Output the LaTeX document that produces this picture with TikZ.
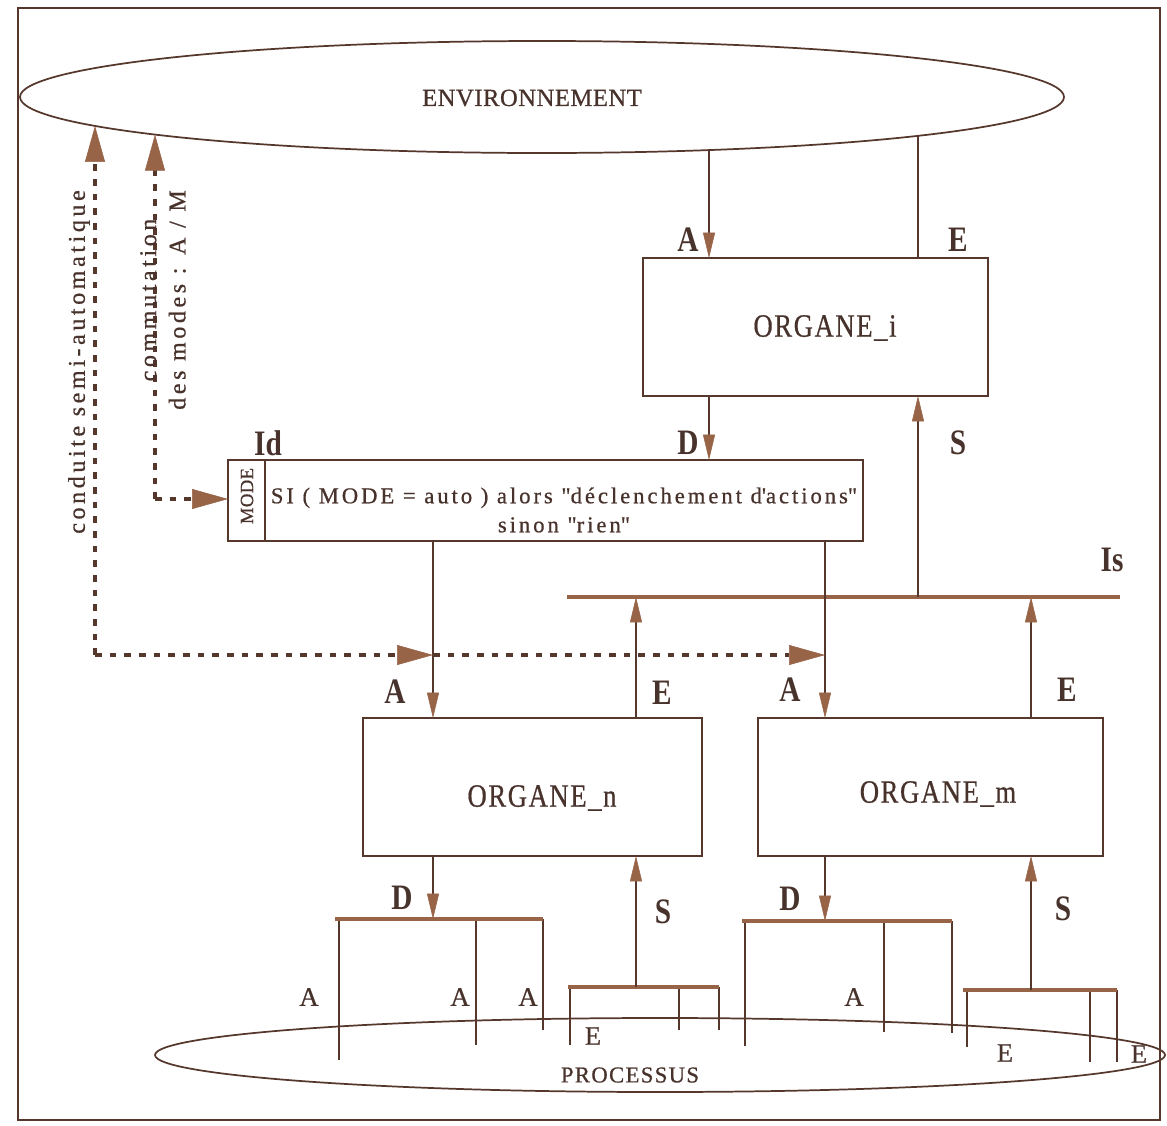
\documentclass[tikz,border=0pt]{standalone}
\usepackage{fontspec}
\usepackage{graphicx}
\setmainfont{Liberation Serif}
\newfontfamily\medfont{Liberation Serif}[FakeBold=0.7]
\usetikzlibrary{shapes.geometric,arrows.meta,calc}
\definecolor{inkc}{RGB}{85,55,44}
\definecolor{tipc}{RGB}{152,100,72}
\definecolor{textc}{RGB}{72,50,44}
\newcommand{\lsp}[1]{\addfontfeature{LetterSpace=#1}}
\newcommand{\tall}[1]{\scalebox{1}[1.22]{#1}}
\begin{document}
\begin{tikzpicture}[x=0.75pt,y=-0.75pt,
  ln/.style={draw=inkc, line width=1.35pt},
  arr/.style={ln, -{Triangle[length=19pt,width=9pt,fill=tipc,color=tipc,line width=0.4pt]}},
  bigtip/.style={-{Triangle[length=27pt,width=15pt,fill=tipc,color=tipc,line width=0.4pt]}},
  dsh/.style={draw=inkc, line width=3.2pt, dash pattern=on 5pt off 6pt},
  box/.style={draw=inkc, line width=1.6pt, inner sep=0pt, outer sep=0pt},
  barl/.style={draw=tipc, line width=3pt},
  lbl/.style={text=textc, font=\fontsize{22}{24}\selectfont\bfseries, inner sep=0pt},
  sl/.style={text=textc, font=\medfont\fontsize{20}{22}\selectfont, inner sep=0pt},
  txt/.style={text=textc, inner sep=0pt},
  ]
\useasboundingbox (0,0) rectangle (1167,1125);
% frame
\draw[draw=inkc, line width=1.4pt] (18,8) rectangle (1160,1120);

% ellipses
\node[ellipse, box, line width=1.3pt, minimum width=783pt, minimum height=84pt] (env) at (542,97) {};
\node[txt, font=\medfont\fontsize{18.5}{20}\selectfont\lsp{2}] (envt) at (532,98) {ENVIRONNEMENT};
\node[ellipse, box, line width=1.3pt, minimum width=757.5pt, minimum height=55.5pt] (proc) at (660,1055) {};
\node[txt, font=\medfont\fontsize{17}{18}\selectfont\lsp{6}] (proct) at (630,1075) {PROCESSUS};

% boxes
\node[box, minimum width=258.75pt, minimum height=103.5pt] (orgi) at (815.5,327) {};
\node[txt, font=\medfont\fontsize{20}{22}\selectfont\lsp{6}] (orgit) at (825,328) {\tall{ORGANE\_i}};
\node[box, minimum width=254.25pt, minimum height=103.5pt] (orgn) at (532.5,787) {};
\node[txt, font=\medfont\fontsize{20}{22}\selectfont\lsp{6}] (orgnt) at (542,798) {\tall{ORGANE\_n}};
\node[box, minimum width=258.75pt, minimum height=103.5pt] (orgm) at (930.5,787) {};
\node[txt, font=\medfont\fontsize{20}{22}\selectfont\lsp{6}] (orgmt) at (938,794) {\tall{ORGANE\_m}};

\node[box, line width=2pt, minimum width=476.25pt, minimum height=60.75pt] (idb) at (545.5,500.5) {};
\coordinate (divT) at (265,460);
\draw[ln] (idb.north -| divT) -- (idb.south -| divT);
\node[txt, rotate=90, font=\medfont\fontsize{14}{15}\selectfont\lsp{2}] (modet) at (247,496) {MODE};
\node[txt, align=center, font=\medfont\fontsize{17}{21.75}\selectfont\lsp{13}] (condt) at (564,510) {SI ( MODE = auto ) alors \textquotedbl déclenchement d\textquotesingle actions\textquotedbl\\sinon \textquotedbl rien\textquotedbl};

% x positions
\coordinate (xa) at (709,0);
\coordinate (xe) at (918,0);
\coordinate (xn) at (433,0);
\coordinate (xm) at (825,0);
\coordinate (xen) at (636,0);
\coordinate (xem) at (1031,0);
% points on the lower border of the environment ellipse
\coordinate (envA) at ($(env.center)+(167,53)$);
\coordinate (envE) at ($(env.center)+(376,38.8)$);
\coordinate (envC) at ($(env.center)+(-447,28.9)$);
\coordinate (envM) at ($(env.center)+(-387,37.6)$);

% Is bar
\coordinate (isL) at (567,597);
\coordinate (isR) at (1120,597);
\draw[barl] (isL) -- (isR);

% connectors top
\draw[arr] (envA) -- (envA |- orgi.north);
\draw[ln] (envE |- orgi.north) -- (envE);
\draw[arr] (orgi.south -| xa) -- (idb.north -| xa);
\draw[arr] (isL -| xe) -- (orgi.south -| xe);
\draw[arr] (idb.south -| xn) -- (orgn.north -| xn);
\draw[arr] (idb.south -| xm) -- (orgm.north -| xm);
\draw[arr] (orgn.north -| xen) -- (isL -| xen);
\draw[arr] (orgm.north -| xem) -- (isL -| xem);

% bottom bars
\coordinate (b1L) at (335,919); \coordinate (b1R) at (543,919);
\coordinate (b2L) at (568,987); \coordinate (b2R) at (719,987);
\coordinate (b3L) at (742,921); \coordinate (b3R) at (952,921);
\coordinate (b4L) at (963,990); \coordinate (b4R) at (1117,990);
\draw[ln] (339,919) -- (339,1060);
\draw[ln] (476,919) -- (476,1045);
\draw[ln] (543,919) -- (543,1030);
\draw[ln] (570,987) -- (570,1045);
\draw[ln] (679,987) -- (679,1030);
\draw[ln] (719,987) -- (719,1030);
\draw[ln] (745,921) -- (745,1046);
\draw[ln] (884,921) -- (884,1032);
\draw[ln] (952,921) -- (952,1033);
\draw[ln] (967,990) -- (967,1047);
\draw[ln] (1090,990) -- (1090,1062);
\draw[ln] (1117,990) -- (1117,1062);
\draw[barl] (b1L) -- (b1R);
\draw[barl] (b2L) -- (b2R);
\draw[barl] (b3L) -- (b3R);
\draw[barl] (b4L) -- (b4R);
\draw[arr] (orgn.south -| xn) -- (b1L -| xn);
\draw[arr] (b2L -| xen) -- (orgn.south -| xen);
\draw[arr] (orgm.south -| xm) -- (b3L -| xm);
\draw[arr] (b4L -| xem) -- (orgm.south -| xem);

% dashed connectors
\coordinate (csc) at (95,655);
\coordinate (cmc) at (155,499);
\draw[dsh, bigtip] (csc) -- (envC);
\draw[dsh, bigtip] (csc) -- (csc -| xn);
\draw[dsh, bigtip] (csc -| xn) -- (csc -| xm);
\draw[dsh, bigtip] (cmc) -- (envM);
\draw[dsh, bigtip] (cmc) -- (cmc -| idb.west);

\node[txt, rotate=90, font=\medfont\fontsize{18}{20}\selectfont\lsp{15}] (cst) at (79,362) {conduite semi-automatique};
\node[txt, rotate=90, align=center, font=\medfont\fontsize{18}{22}\selectfont\lsp{15}] (cmt) at (163,300) {commutation\\des modes : A / M};

% labels
\node[lbl] (l1) at (688,240) {\tall{A}};
\node[lbl] (l2) at (958,240) {\tall{E}};
\node[lbl] (l3) at (688,443) {\tall{D}};
\node[lbl] (l4) at (958,443) {\tall{S}};
\node[lbl] (l5) at (268,443) {\tall{Id}};
\node[lbl] (l6) at (1112,560) {\tall{Is}};
\node[lbl] (l7) at (395,692) {\tall{A}};
\node[lbl] (l8) at (662,693) {\tall{E}};
\node[lbl] (l9) at (790,690) {\tall{A}};
\node[lbl] (l10) at (1067,690) {\tall{E}};
\node[lbl] (l11) at (402,898) {\tall{D}};
\node[lbl] (l12) at (663,912) {\tall{S}};
\node[lbl] (l13) at (790,899) {\tall{D}};
\node[lbl] (l14) at (1063,909) {\tall{S}};
\node[sl] (s1) at (309,997) {A};
\node[sl] (s2) at (460,997) {A};
\node[sl] (s3) at (528,997) {A};
\node[sl] (s4) at (593,1036) {E};
\node[sl] (s5) at (854,997) {A};
\node[sl] (s6) at (1005,1053) {E};
\node[sl] (s7) at (1139,1054) {E};
\end{tikzpicture}
\end{document}
